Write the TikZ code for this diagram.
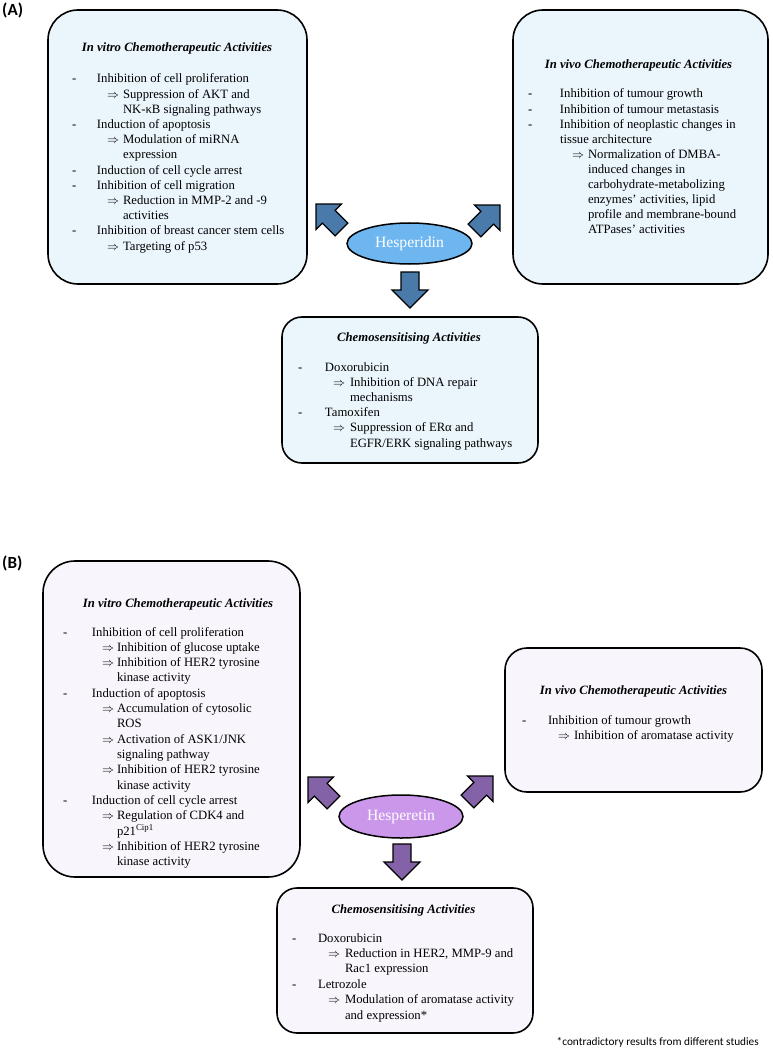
\documentclass[tikz,border=0pt]{standalone}
\usepackage{fontspec}
\setmainfont{Liberation Serif}
\newfontfamily\labfont{Carlito}
\usetikzlibrary{shapes.geometric}
\definecolor{boxA}{HTML}{EBF5FC}
\definecolor{arrA}{HTML}{4A7AAA}
\definecolor{ellA}{HTML}{6EB6F0}
\definecolor{boxB}{HTML}{F8F6FC}
\definecolor{arrB}{HTML}{8462A8}
\definecolor{ellB}{HTML}{CA97EA}
\newlength\dw \newlength\ao \newlength\at
\newcommand\Dl[1]{\makebox[\dw][l]{-}#1\par}
\newcommand\Cl[1]{\hspace*{\dw}#1\par}
\newcommand\Al[1]{\hspace*{\dw}\hspace*{\ao}\makebox[\at][l]{$\Rightarrow$}#1\par}
\newcommand\Acl[1]{\hspace*{\dw}\hspace*{\ao}\hspace*{\at}#1\par}
\newcommand\lst[5]{\parbox[t]{320pt}{\setlength\dw{#1}\setlength\ao{#2}\setlength\at{#3}\fontsize{12.7}{#4}\selectfont\raggedright\parindent=0pt\parskip=0pt #5}}
\newcommand\blockarrow[3]{\draw[#1, shift={#2}, rotate=#3] (0,-9) -- (18,-9) -- (18,-18) -- (36,0) -- (18,18) -- (18,9) -- (0,9) -- cycle;}
\begin{document}
\begin{tikzpicture}[x=1pt,y=-1pt,
  box/.style={draw=black, line width=1.6pt, rectangle, inner sep=0pt, outer sep=0pt},
  listtxt/.style={anchor=base west, inner sep=0pt, outer sep=0pt},
  ttl/.style={anchor=base, inner sep=0pt, font={\fontsize{12.7}{15.2}\selectfont\bfseries\itshape}},
  hes/.style={ellipse, draw=black, line width=1.5pt, text=white, inner sep=0pt, font={\fontsize{15.7}{18}\selectfont}},
  barrA/.style={fill=arrA, draw=black, line width=1.2pt, line join=miter},
  barrB/.style={fill=arrB, draw=black, line width=1.2pt, line join=miter},
  lab/.style={anchor=base west, inner sep=0pt, font={\labfont\bfseries\fontsize{17}{20}\selectfont}}]
\fill[white] (0,0) rectangle (772,1059);
\useasboundingbox (0,0) rectangle (772,1059);

% ---------- (A) ----------
\node (labA) [lab] at (2,15.5) {(A)};
\node (a1) [box, fill=boxA, rounded corners=30pt, minimum width=259pt, minimum height=274pt] at (177.5,147) {};
\node (a2) [box, fill=boxA, rounded corners=30pt, minimum width=255pt, minimum height=274pt] at (640.5,147) {};
\node (a3) [box, fill=boxA, rounded corners=20pt, minimum width=256pt, minimum height=146pt] at (410,390) {};
\node (a1h) [ttl] at (177,52) {In vitro Chemotherapeutic Activities};
\node (a2h) [ttl] at (638.5,69) {In vivo Chemotherapeutic Activities};
\node (a3h) [ttl] at (409,341) {Chemosensitising Activities};
\node (a1t) [listtxt] at (72,83) {\lst{25pt}{10pt}{16pt}{15.2}{%
\Dl{Inhibition of cell proliferation}
\Al{Suppression of AKT and}
\Acl{NK-κB signaling pathways}
\Dl{Induction of apoptosis}
\Al{Modulation of miRNA}
\Acl{expression}
\Dl{Induction of cell cycle arrest}
\Dl{Inhibition of cell migration}
\Al{Reduction in MMP-2 and -9}
\Acl{activities}
\Dl{Inhibition of breast cancer stem cells}
\Al{Targeting of p53}}};
\node (a2t) [listtxt] at (528,98) {\lst{32pt}{12pt}{16pt}{15.1}{%
\Dl{Inhibition of tumour growth}
\Dl{Inhibition of tumour metastasis}
\Dl{Inhibition of neoplastic changes in}
\Cl{tissue architecture}
\Al{Normalization of DMBA-}
\Acl{induced changes in}
\Acl{carbohydrate-metabolizing}
\Acl{enzymes’ activities, lipid}
\Acl{profile and membrane-bound}
\Acl{ATPases’ activities}}};
\node (a3t) [listtxt] at (298,371) {\lst{27pt}{8pt}{17pt}{15.2}{%
\Dl{Doxorubicin}
\Al{Inhibition of DNA repair}
\Acl{mechanisms}
\Dl{Tamoxifen}
\Al{Suppression of ERα and}
\Acl{EGFR/ERK signaling pathways}}};
\node (hA) [hes, fill=ellA, minimum width=125pt, minimum height=41pt] at (409.5,243.5) {Hesperidin};
\blockarrow{barrA}{(341.5,229.5)}{135}
\blockarrow{barrA}{(474.5,230.5)}{45}
\blockarrow{barrA}{(410,272)}{-90}

% ---------- (B) ----------
\node (labB) [lab] at (2,568.5) {(B)};
\node (b1) [box, fill=boxB, rounded corners=32pt, minimum width=257pt, minimum height=316pt] at (171.5,719) {};
\node (b2) [box, fill=boxB, rounded corners=22pt, minimum width=257pt, minimum height=144pt] at (633.5,720) {};
\node (b3) [box, fill=boxB, rounded corners=20pt, minimum width=256pt, minimum height=145pt] at (405,960.5) {};
\node (b1h) [ttl] at (178,607) {In vitro Chemotherapeutic Activities};
\node (b2h) [ttl] at (633.5,694) {In vivo Chemotherapeutic Activities};
\node (b3h) [ttl] at (403.5,913) {Chemosensitising Activities};
\node (b1t) [listtxt] at (63,636) {\lst{29pt}{10pt}{15pt}{15.33}{%
\Dl{Inhibition of cell proliferation}
\Al{Inhibition of glucose uptake}
\Al{Inhibition of HER2 tyrosine}
\Acl{kinase activity}
\Dl{Induction of apoptosis}
\Al{Accumulation of cytosolic}
\Acl{ROS}
\Al{Activation of ASK1/JNK}
\Acl{signaling pathway}
\Al{Inhibition of HER2 tyrosine}
\Acl{kinase activity}
\Dl{Induction of cell cycle arrest}
\Al{Regulation of CDK4 and}
\Acl{p21\textsuperscript{Cip1}}
\Al{Inhibition of HER2 tyrosine}
\Acl{kinase activity}}};
\node (b2t) [listtxt] at (522,724) {\lst{26pt}{10pt}{16pt}{15.3}{%
\Dl{Inhibition of tumour growth}
\Al{Inhibition of aromatase activity}}};
\node (b3t) [listtxt] at (292,942) {\lst{26pt}{10pt}{17pt}{15.4}{%
\Dl{Doxorubicin}
\Al{Reduction in HER2, MMP-9 and}
\Acl{Rac1 expression}
\Dl{Letrozole}
\Al{Modulation of aromatase activity}
\Acl{and expression*}}};
\node (hB) [hes, fill=ellB, minimum width=124pt, minimum height=43pt] at (401,816.5) {Hesperetin};
\blockarrow{barrB}{(333.5,802.5)}{135}
\blockarrow{barrB}{(467.5,801.5)}{45}
\blockarrow{barrB}{(402,844)}{-90}

\node (foot) [anchor=base east, inner sep=0pt, font={\labfont\fontsize{11.3}{13}\selectfont}] at (759,1045) {*contradictory results from different studies};
\end{tikzpicture}
\end{document}
